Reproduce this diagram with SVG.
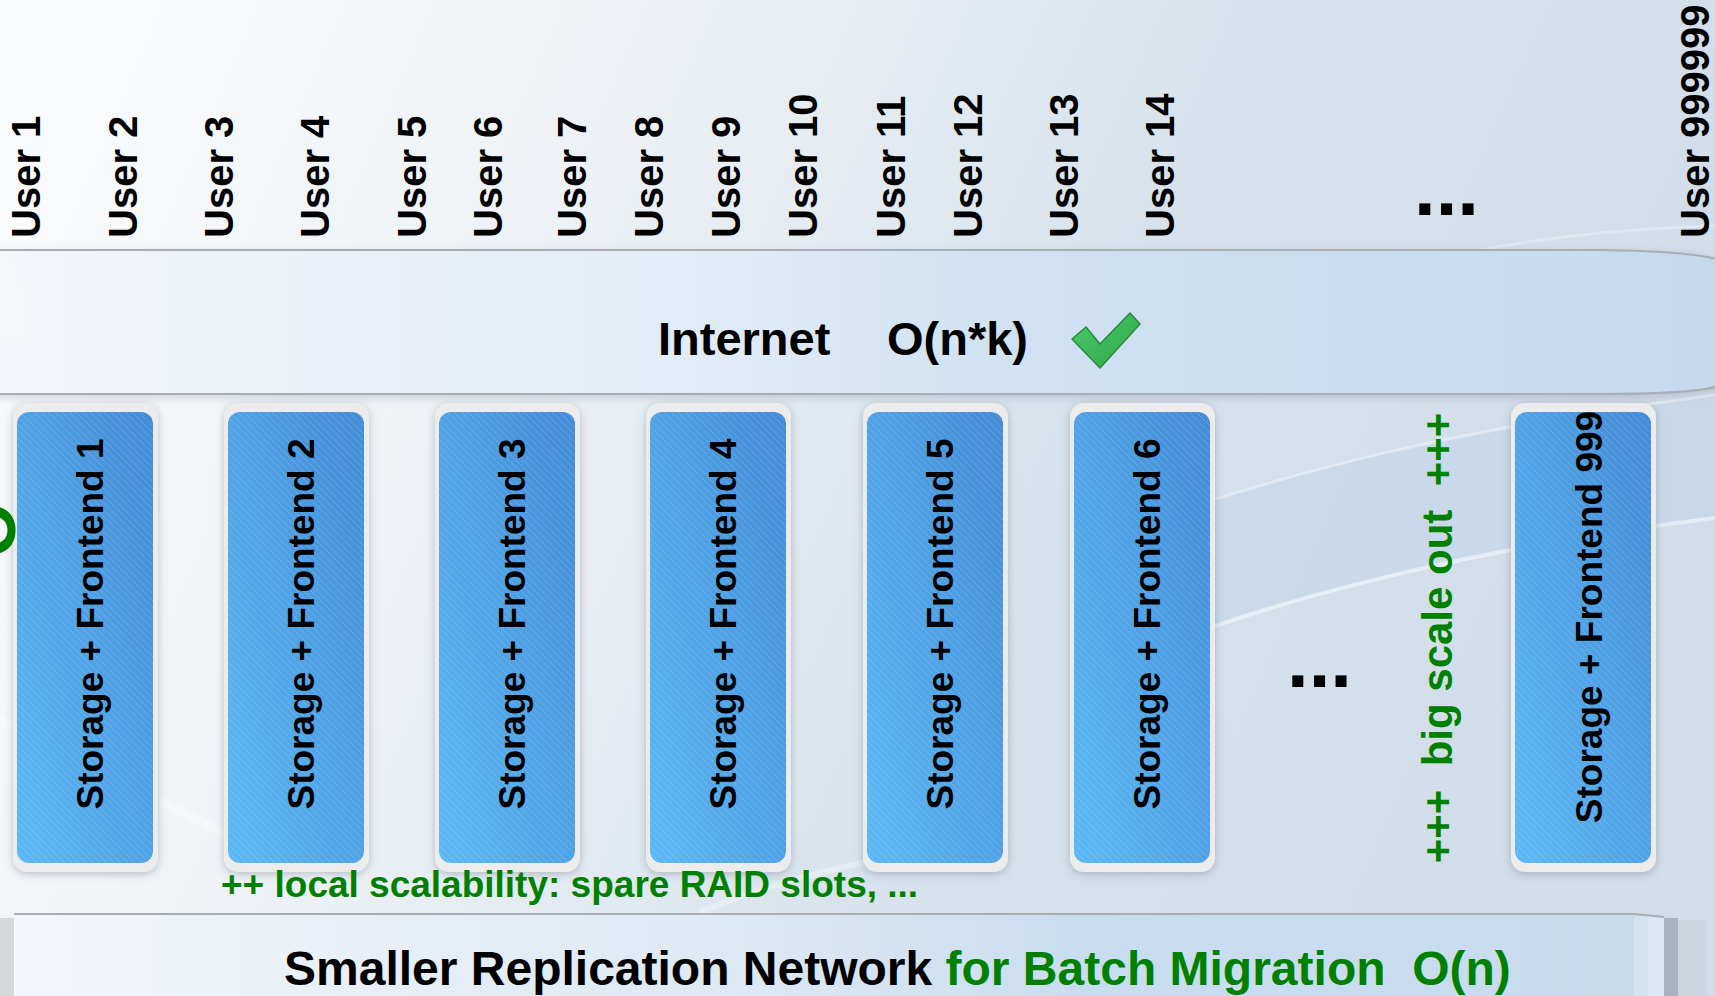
<svg xmlns="http://www.w3.org/2000/svg" width="1715" height="996" viewBox="0 0 1715 996">
<defs>
<linearGradient id="bg" x1="0" y1="0" x2="1" y2="0.25">
<stop offset="0" stop-color="#fbfcfd"/>
<stop offset="0.35" stop-color="#eef2f6"/>
<stop offset="0.7" stop-color="#d7e2ec"/>
<stop offset="1" stop-color="#d1dde8"/>
</linearGradient>
<linearGradient id="band" x1="0" y1="0" x2="1" y2="0">
<stop offset="0" stop-color="#f3f6fa"/>
<stop offset="0.4" stop-color="#e2ecf6"/>
<stop offset="0.6" stop-color="#cfe1f2"/>
<stop offset="1" stop-color="#c5daee"/>
</linearGradient>
<linearGradient id="band2" x1="0" y1="0" x2="1" y2="0">
<stop offset="0" stop-color="#f3f6fa"/>
<stop offset="0.45" stop-color="#dce8f3"/>
<stop offset="0.65" stop-color="#c9ddf0"/>
<stop offset="1" stop-color="#c8dcee"/>
</linearGradient>
<linearGradient id="blue" x1="1" y1="0" x2="0" y2="1">
<stop offset="0" stop-color="#438bd6"/>
<stop offset="1" stop-color="#5cb9f5"/>
</linearGradient>
<linearGradient id="chk" x1="0" y1="0" x2="1" y2="1">
<stop offset="0" stop-color="#4cc96a"/>
<stop offset="1" stop-color="#2fa847"/>
</linearGradient>
<pattern id="hatch" patternUnits="userSpaceOnUse" width="7" height="7">
<path d="M-1,-1 L8,8" stroke="#ffffff" stroke-opacity="0.16" stroke-width="1"/>
</pattern>
<filter id="shadow" x="-20%" y="-10%" width="140%" height="120%">
<feDropShadow dx="0" dy="2" stdDeviation="4" flood-color="#6f7c8c" flood-opacity="0.45"/>
</filter>
<filter id="bandshadow" x="-5%" y="-20%" width="110%" height="140%">
<feDropShadow dx="0" dy="3" stdDeviation="4" flood-color="#8592a2" flood-opacity="0.35"/>
</filter>
<style>
.user{font-family:"Liberation Sans",Arial,sans-serif;font-weight:bold;font-size:40px;fill:#000}
.box-label{font-family:"Liberation Sans",Arial,sans-serif;font-weight:bold;font-size:37px;fill:#000;text-anchor:middle}
.big{font-family:"Liberation Sans",Arial,sans-serif;font-weight:bold;font-size:47px;fill:#000}
.green{fill:#008000}
.dots{font-family:"Liberation Sans",Arial,sans-serif;font-weight:bold;font-size:78px;fill:#000}
.frame{fill:#ececec}
.inner{fill:url(#blue)}
.hatch{fill:url(#hatch)}
</style>
</defs>

<!-- background -->
<rect x="0" y="0" width="1715" height="996" fill="url(#bg)"/>
<g id="background-swooshes" fill="none">
<path d="M1150,520 C1300,470 1450,430 1715,395 L1715,520 C1500,545 1300,590 1150,650 Z" fill="#bcd2ea" fill-opacity="0.45"/>
<path d="M1150,520 C1300,470 1450,430 1715,395" stroke="#ffffff" stroke-opacity="0.4" stroke-width="3"/>
<path d="M1150,650 C1300,590 1500,545 1715,518" stroke="#ffffff" stroke-opacity="0.5" stroke-width="4"/>
<path d="M1480,250 C1560,235 1640,228 1715,226" stroke="#ffffff" stroke-opacity="0.3" stroke-width="3"/>
<path d="M0,720 C120,780 230,840 330,880" stroke="#ffffff" stroke-opacity="0.35" stroke-width="10"/>
<path d="M700,912 C780,880 860,860 940,850" stroke="#ffffff" stroke-opacity="0.3" stroke-width="6"/>
</g>

<!-- users -->
<g id="users">
<g id="user-1"><text class="user" transform="translate(40,238) rotate(-90)">User 1</text></g>
<g id="user-2"><text class="user" transform="translate(137,238) rotate(-90)">User 2</text></g>
<g id="user-3"><text class="user" transform="translate(233,238) rotate(-90)">User 3</text></g>
<g id="user-4"><text class="user" transform="translate(329,238) rotate(-90)">User 4</text></g>
<g id="user-5"><text class="user" transform="translate(426,238) rotate(-90)">User 5</text></g>
<g id="user-6"><text class="user" transform="translate(502,238) rotate(-90)">User 6</text></g>
<g id="user-7"><text class="user" transform="translate(586,238) rotate(-90)">User 7</text></g>
<g id="user-8"><text class="user" transform="translate(663,238) rotate(-90)">User 8</text></g>
<g id="user-9"><text class="user" transform="translate(740,238) rotate(-90)">User 9</text></g>
<g id="user-10"><text class="user" transform="translate(817,238) rotate(-90)">User 10</text></g>
<g id="user-11"><text class="user" transform="translate(905,238) rotate(-90)">User 11</text></g>
<g id="user-12"><text class="user" transform="translate(982,238) rotate(-90)">User 12</text></g>
<g id="user-13"><text class="user" transform="translate(1078,238) rotate(-90)">User 13</text></g>
<g id="user-14"><text class="user" transform="translate(1174,238) rotate(-90)">User 14</text></g>
<g id="user-dots"><text class="dots" x="1414" y="215">...</text></g>
<g id="user-999999"><text class="user" transform="translate(1709,238) rotate(-90)">User 999999</text></g>
</g>

<!-- internet band -->
<g id="internet">
<path d="M-10,250 L1600,250 C1680,251 1712,256 1725,262 L1725,384 C1712,390 1680,394 1600,394 L-10,394 Z" fill="url(#band)" stroke="#a9aeb4" stroke-width="2" filter="url(#bandshadow)"/>
<path d="M0,252 C20,262 30,300 30,340 L0,340 Z" fill="#ffffff" fill-opacity="0.15"/>
<text class="big" x="658" y="355">Internet</text>
<text class="big" x="887" y="355">O(n*k)</text>
<polygon points="1072,339 1086,327 1100,344 1130,313 1140,324 1100,368" fill="url(#chk)" stroke="#2a8a3a" stroke-width="1.5" stroke-linejoin="round"/>
</g>

<!-- storage + frontend boxes -->
<g id="box-1">
<rect class="frame" x="13" y="403" width="145" height="469" rx="14" filter="url(#shadow)"/>
<rect class="inner" x="17" y="412" width="136" height="451" rx="12"/>
<rect class="hatch" x="17" y="412" width="136" height="451" rx="12"/>
<text class="box-label" transform="translate(103,624) rotate(-90)">Storage + Frontend 1</text>
</g>
<g id="box-2">
<rect class="frame" x="224" y="403" width="145" height="469" rx="14" filter="url(#shadow)"/>
<rect class="inner" x="228" y="412" width="136" height="451" rx="12"/>
<rect class="hatch" x="228" y="412" width="136" height="451" rx="12"/>
<text class="box-label" transform="translate(314,624) rotate(-90)">Storage + Frontend 2</text>
</g>
<g id="box-3">
<rect class="frame" x="435" y="403" width="145" height="469" rx="14" filter="url(#shadow)"/>
<rect class="inner" x="439" y="412" width="136" height="451" rx="12"/>
<rect class="hatch" x="439" y="412" width="136" height="451" rx="12"/>
<text class="box-label" transform="translate(525,624) rotate(-90)">Storage + Frontend 3</text>
</g>
<g id="box-4">
<rect class="frame" x="646" y="403" width="145" height="469" rx="14" filter="url(#shadow)"/>
<rect class="inner" x="650" y="412" width="136" height="451" rx="12"/>
<rect class="hatch" x="650" y="412" width="136" height="451" rx="12"/>
<text class="box-label" transform="translate(736,624) rotate(-90)">Storage + Frontend 4</text>
</g>
<g id="box-5">
<rect class="frame" x="863" y="403" width="145" height="469" rx="14" filter="url(#shadow)"/>
<rect class="inner" x="867" y="412" width="136" height="451" rx="12"/>
<rect class="hatch" x="867" y="412" width="136" height="451" rx="12"/>
<text class="box-label" transform="translate(953,624) rotate(-90)">Storage + Frontend 5</text>
</g>
<g id="box-6">
<rect class="frame" x="1070" y="403" width="145" height="469" rx="14" filter="url(#shadow)"/>
<rect class="inner" x="1074" y="412" width="136" height="451" rx="12"/>
<rect class="hatch" x="1074" y="412" width="136" height="451" rx="12"/>
<text class="box-label" transform="translate(1160,624) rotate(-90)">Storage + Frontend 6</text>
</g>
<g id="box-dots"><text class="dots" x="1287" y="687">...</text></g>
<g id="scale-out"><text class="big green" style="font-size:42px;text-anchor:middle" transform="translate(1452,638) rotate(-90)" xml:space="preserve">+++  big scale out  +++</text></g>
<g id="box-999">
<rect class="frame" x="1511" y="403" width="145" height="469" rx="14" filter="url(#shadow)"/>
<rect class="inner" x="1515" y="412" width="136" height="451" rx="12"/>
<rect class="hatch" x="1515" y="412" width="136" height="451" rx="12"/>
<text class="box-label" transform="translate(1602,617) rotate(-90)">Storage + Frontend 999</text>
</g>
<g id="left-fragment"><text class="big green" style="font-size:70px;text-anchor:middle" transform="translate(15,530) rotate(-90)">O</text></g>

<g id="local-scalability"><text class="big green" style="font-size:37px" x="221" y="897">++ local scalability: spare RAID slots, ...</text></g>

<!-- replication network band -->
<g id="replication-network">
<rect x="0" y="918" width="14" height="78" fill="#d6d8da"/>
<rect x="14" y="916" width="16" height="80" fill="#eef0f2"/>
<rect x="1664" y="918" width="14" height="78" fill="#a8b3be"/>
<rect x="1678" y="920" width="28" height="76" fill="#cdd6df"/>
<path d="M14,914 L1634,914 L1664,916 L1664,1000 L14,1000 Z" fill="url(#band2)"/>
<rect x="1634" y="916" width="14" height="84" fill="#d3e3f2"/>
<rect x="1648" y="916" width="16" height="84" fill="#dce9f5"/>
<path d="M14,914 L1634,914 L1664,917" fill="none" stroke="#a9aeb4" stroke-width="2"/>
<text class="big" style="font-size:48px" x="284" y="985" xml:space="preserve">Smaller Replication Network <tspan class="green">for Batch Migration  O(n)</tspan></text>
</g>

<g id="connectors"/>
</svg>
